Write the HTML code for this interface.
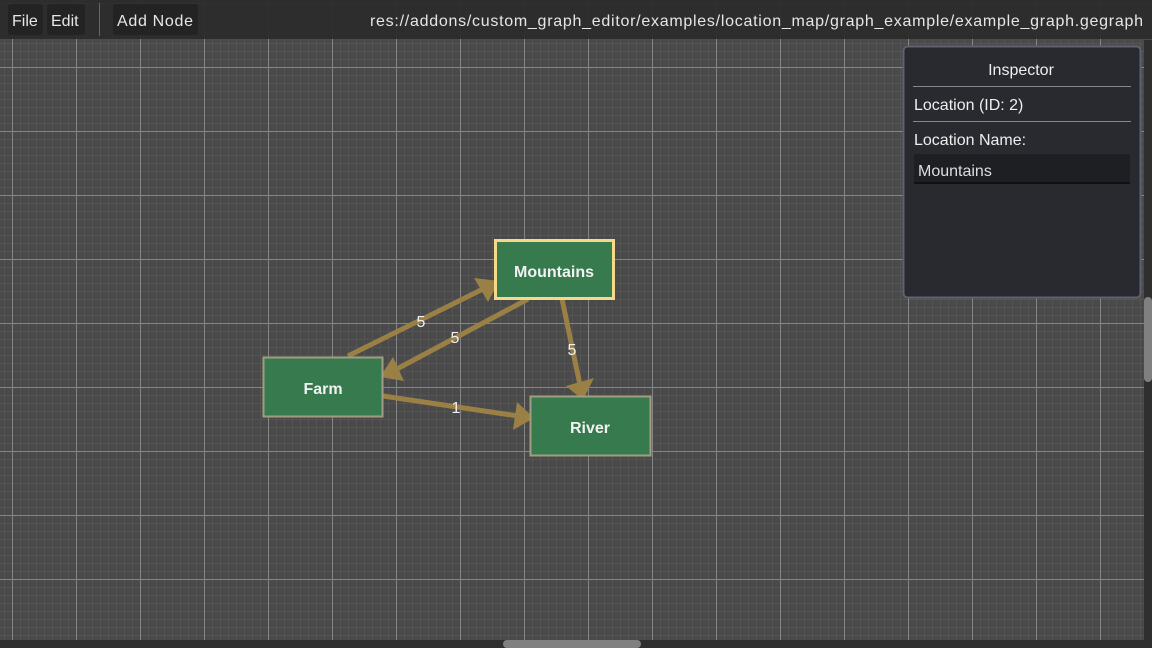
<!DOCTYPE html>
<html><head><meta charset="utf-8"><style>
html,body{margin:0;padding:0;background:#4a4a4a;}
svg{display:block}
text{font-family:"Liberation Sans","DejaVu Sans",sans-serif;}
</style></head><body>
<svg width="1152" height="648" viewBox="0 0 1152 648" xmlns="http://www.w3.org/2000/svg">
<defs>
<pattern id="minor" x="4" y="3" width="8" height="8" patternUnits="userSpaceOnUse">
<rect width="8" height="8" fill="#4a4a4a"/>
<rect width="1" height="8" fill="#545454"/>
<rect width="8" height="1" fill="#545454"/>
</pattern>
<pattern id="major" x="12" y="3" width="64" height="64" patternUnits="userSpaceOnUse">
<rect width="1" height="64" fill="#858585"/>
<rect width="64" height="1" fill="#858585"/>
</pattern>
</defs>
<rect width="1152" height="648" fill="url(#minor)"/>
<rect width="1152" height="648" fill="url(#major)"/>

<!-- toolbar -->
<rect x="0" y="0" width="1152" height="39" fill="#2a2a2a" opacity="0.92"/>
<rect x="8" y="4" width="35" height="31" rx="3" fill="#232323"/>
<rect x="47" y="4" width="38" height="31" rx="3" fill="#232323"/>
<rect x="99" y="3" width="1" height="33" fill="#666"/>
<rect x="113" y="4" width="85" height="31" rx="3" fill="#232323"/>
<g fill="#e6e6e6" font-size="16">
<text x="12" y="26">File</text>
<text x="51" y="26">Edit</text>
<text x="117" y="26" textLength="76">Add Node</text>
<text x="370" y="26" textLength="773">res://addons/custom_graph_editor/examples/location_map/graph_example/example_graph.gegraph</text>
</g>

<!-- edges -->
<g stroke="#9b8045" stroke-width="5" fill="none">
<line x1="348" y1="356" x2="483" y2="289"/>
<line x1="528" y1="299" x2="395" y2="370"/>
<line x1="562" y1="299" x2="580" y2="385"/>
<line x1="383" y1="396" x2="518" y2="416"/>
</g>
<g fill="#9b8045">
<polygon points="499,281 474,278 488,302"/>
<polygon points="380,377 404,381 393,357"/>
<polygon points="583,400 594,378 566,386"/>
<polygon points="534,418 517,402 513,430"/>
</g>
<g fill="#f0f0f0" font-size="16" text-anchor="middle">
<text x="421" y="327">5</text>
<text x="455" y="343">5</text>
<text x="572" y="355">5</text>
<text x="456" y="413">1</text>
</g>

<!-- nodes -->
<rect x="495.5" y="240.5" width="118" height="58" fill="#377a4e" stroke="#f5d98a" stroke-width="3"/>
<rect x="263.5" y="357.5" width="119" height="59" fill="#377a4e" stroke="#a09d82" stroke-width="2"/>
<rect x="530.5" y="396.5" width="120" height="59" fill="#377a4e" stroke="#a09d82" stroke-width="2"/>
<g fill="#f2f2f2" font-size="16" font-weight="bold" text-anchor="middle">
<text x="554" y="277">Mountains</text>
<text x="323" y="394">Farm</text>
<text x="590" y="433">River</text>
</g>

<!-- inspector -->
<rect x="903.5" y="46.5" width="237" height="251" rx="4" fill="#282a30" stroke="#5e6170" stroke-width="2"/>
<g fill="#eeeeee" font-size="16">
<text x="1021" y="75" text-anchor="middle">Inspector</text>
<rect x="913" y="86" width="218" height="1" fill="#888"/>
<text x="914" y="110">Location (ID: 2)</text>
<rect x="913" y="121" width="218" height="1" fill="#888"/>
<text x="914" y="145">Location Name:</text>
<rect x="914" y="154" width="216" height="30" rx="2" fill="#1e1f22"/>
<rect x="914" y="182" width="216" height="2" fill="#111"/>
<text x="918" y="176" fill="#dddddd">Mountains</text>
</g>

<!-- scrollbars -->
<rect x="0" y="640" width="1144" height="8" fill="#2f2f2f"/>
<rect x="503" y="640" width="138" height="8" rx="4" fill="#808080"/>
<rect x="1144" y="40" width="8" height="608" fill="#2f2f2f"/>
<rect x="1144" y="297" width="8" height="85" rx="4" fill="#808080"/>
</svg>
</body></html>
